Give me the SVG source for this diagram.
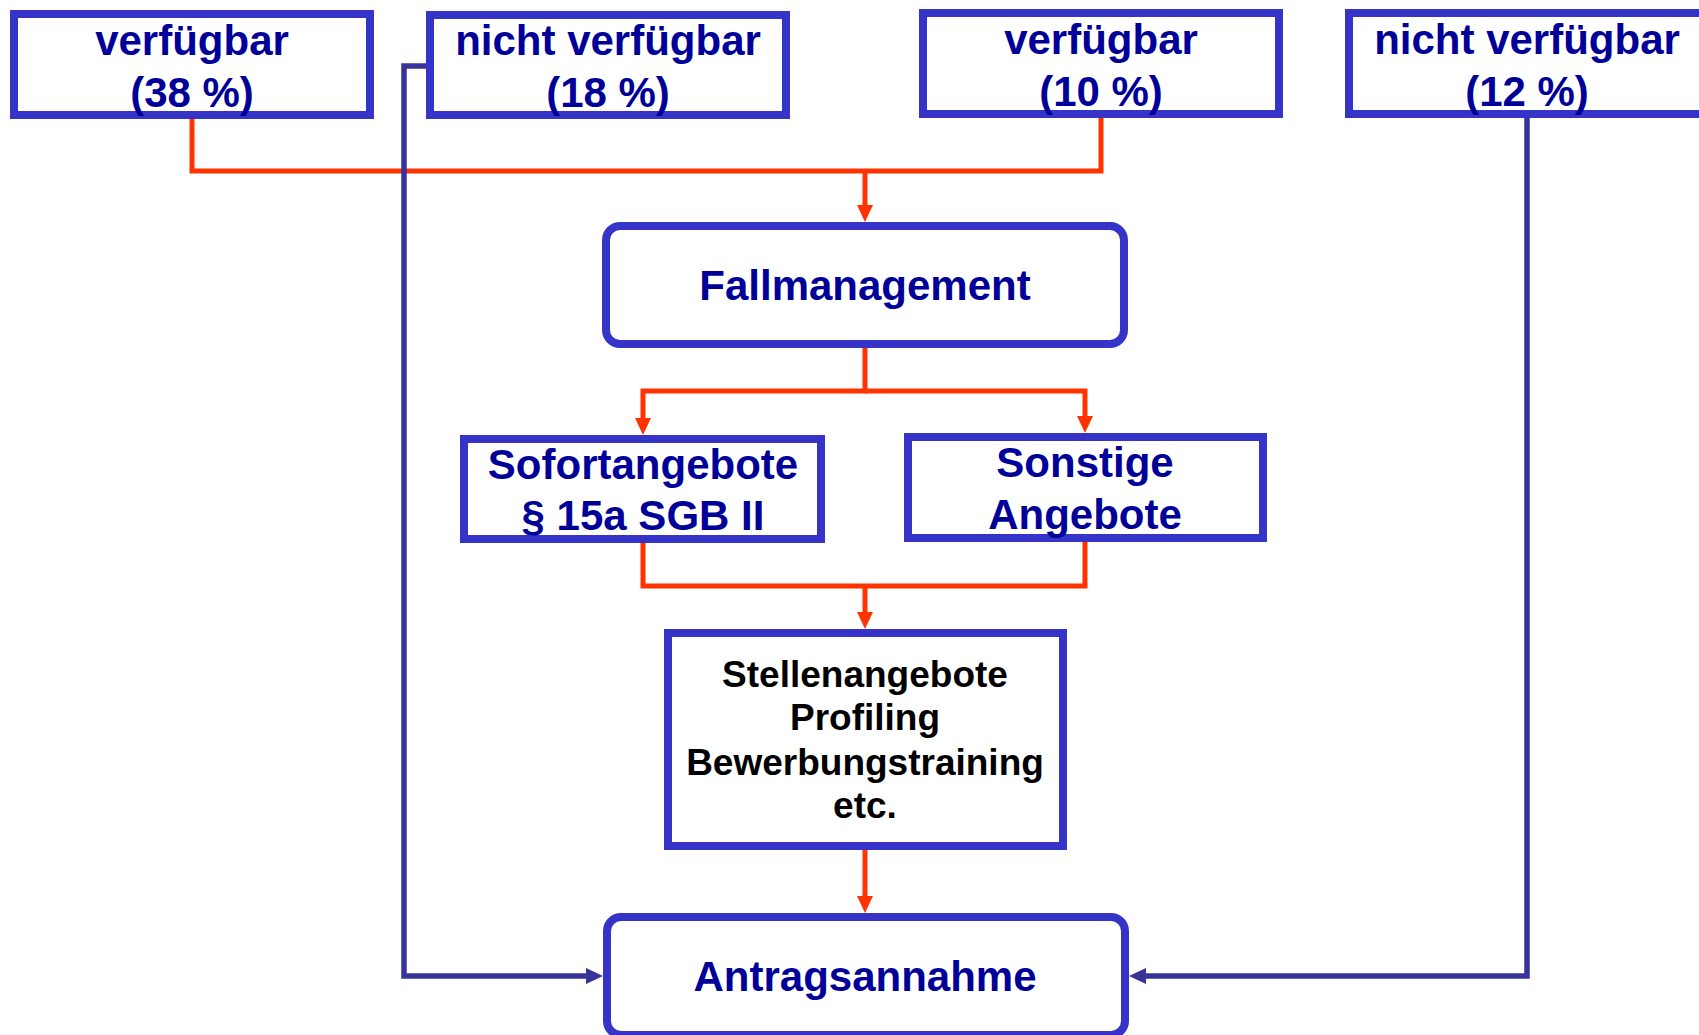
<svg xmlns="http://www.w3.org/2000/svg" width="1699" height="1035" viewBox="0 0 1699 1035">
<style>
.box{fill:#fff;stroke:#3634C8;stroke-width:8}
.t{font-family:"Liberation Sans",Arial,Helvetica,sans-serif;font-weight:bold;font-size:42px;fill:#000099;text-anchor:middle}
.k{font-family:"Liberation Sans",Arial,Helvetica,sans-serif;font-weight:bold;font-size:37px;fill:#000;text-anchor:middle}
.red{fill:none;stroke:#FF3300;stroke-width:5}
.blue{fill:none;stroke:#383399;stroke-width:5.5}
</style>
<defs>
<marker id="ar" markerUnits="userSpaceOnUse" markerWidth="17" markerHeight="16" refX="7" refY="8" orient="auto"><path d="M0,0 L17,8 L0,16 z" fill="#FF3300"/></marker>
<marker id="ab" markerUnits="userSpaceOnUse" markerWidth="17" markerHeight="16" refX="7" refY="8" orient="auto"><path d="M0,0 L17,8 L0,16 z" fill="#383399"/></marker>
</defs>
<rect width="1699" height="1035" fill="#fff"/>
<g id="connectors">
<path class="red" d="M192,119 V171 H1101 V118"/>
<path class="red" d="M865,171 V212" marker-end="url(#ar)"/>
<path class="red" d="M865,348 V391 H643 V425" marker-end="url(#ar)"/>
<path class="red" d="M865,391 H1085 V423" marker-end="url(#ar)"/>
<path class="red" d="M643,543 V586 H1085 V542"/>
<path class="red" d="M865,586 V619" marker-end="url(#ar)"/>
<path class="red" d="M865,850 V903" marker-end="url(#ar)"/>
<path class="blue" d="M426,66 H404 V976 H593" marker-end="url(#ab)"/>
<path class="blue" d="M1527,118 V976 H1139" marker-end="url(#ab)"/>
</g>
<g id="n1"><rect class="box" x="14" y="14" width="356" height="101"/><text class="t" x="192" y="55">verfügbar</text><text class="t" x="192" y="107">(38 %)</text></g>
<g id="n2"><rect class="box" x="430" y="15" width="356" height="100"/><text class="t" x="608" y="55">nicht verfügbar</text><text class="t" x="608" y="107">(18 %)</text></g>
<g id="n3"><rect class="box" x="923" y="13" width="356" height="101"/><text class="t" x="1101" y="54">verfügbar</text><text class="t" x="1101" y="106">(10 %)</text></g>
<g id="n4"><rect class="box" x="1349" y="13" width="356" height="101"/><text class="t" x="1527" y="54">nicht verfügbar</text><text class="t" x="1527" y="106">(12 %)</text></g>
<g id="fall"><rect class="box" x="606" y="226" width="518" height="118" rx="14"/><text class="t" x="865" y="300">Fallmanagement</text></g>
<g id="sofort"><rect class="box" x="464" y="439" width="357" height="100"/><text class="t" x="643" y="479">Sofortangebote</text><text class="t" x="643" y="530">§ 15a SGB II</text></g>
<g id="sonstige"><rect class="box" x="908" y="437" width="355" height="101"/><text class="t" x="1085" y="477">Sonstige</text><text class="t" x="1085" y="529">Angebote</text></g>
<g id="stellen"><rect class="box" x="668" y="633" width="395" height="213"/><text class="k" x="865" y="687">Stellenangebote</text><text class="k" x="865" y="730">Profiling</text><text class="k" x="865" y="775">Bewerbungstraining</text><text class="k" x="865" y="818">etc.</text></g>
<g id="antrag"><rect class="box" x="607" y="917" width="518" height="118" rx="14"/><text class="t" x="865" y="991">Antragsannahme</text></g>
</svg>
